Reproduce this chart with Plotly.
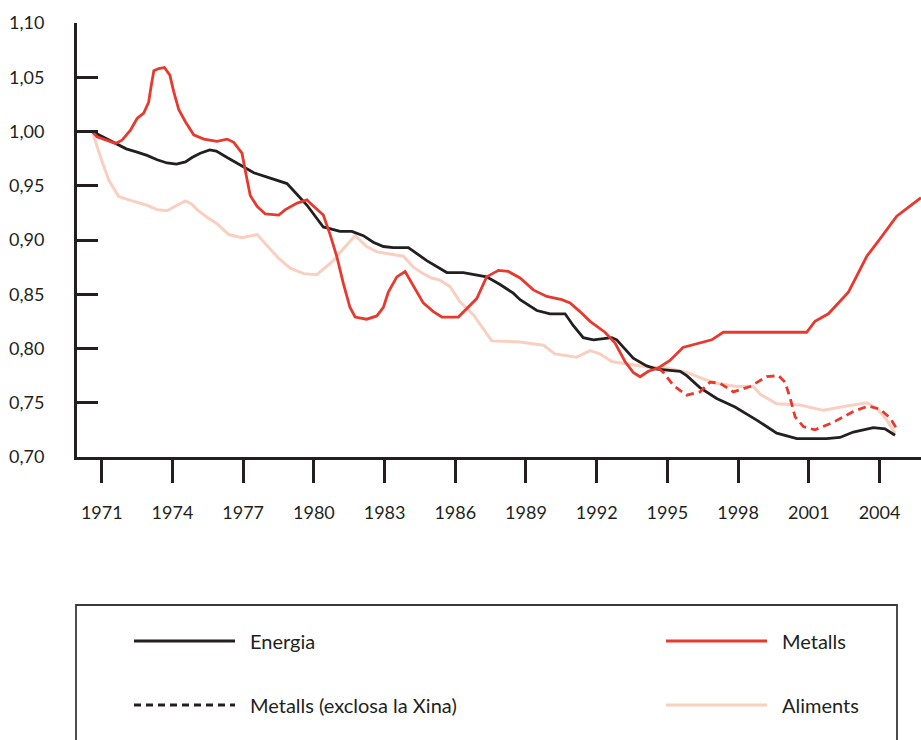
import plotly.graph_objects as go

# --- Data (index) ---
energia_x = [1970.6, 1971.58, 1972.04, 1972.5, 1972.92, 1973.35, 1973.77, 1974.17, 1974.55, 1974.83,
             1975.18, 1975.58, 1975.86, 1976.32, 1976.88, 1977.45, 1978.15, 1978.86, 1979.29, 1979.71,
             1980.4, 1981.11, 1981.61, 1982.1, 1982.52, 1982.95, 1983.37, 1984.01, 1984.79, 1985.64,
             1986.34, 1986.91, 1987.33, 1987.9, 1988.46, 1988.75, 1989.46, 1990.02, 1990.66, 1991.01,
             1991.43, 1991.86, 1992.64, 1992.85, 1993.55, 1994.12, 1994.55, 1995.54, 1995.82, 1996.38,
             1997.09, 1997.87, 1998.79, 1999.64, 2000.49, 2001.76, 2002.32, 2002.89, 2003.74, 2004.23,
             2004.66]
energia_y = [1.000, 0.989, 0.984, 0.981, 0.978, 0.974, 0.971, 0.970, 0.972, 0.976,
             0.980, 0.983, 0.982, 0.976, 0.969, 0.962, 0.957, 0.952, 0.942, 0.932,
             0.912, 0.908, 0.908, 0.904, 0.898, 0.894, 0.893, 0.893, 0.881, 0.870,
             0.870, 0.868, 0.866, 0.859, 0.851, 0.845, 0.835, 0.832, 0.832, 0.821,
             0.810, 0.808, 0.810, 0.808, 0.791, 0.784, 0.781, 0.779, 0.775, 0.764,
             0.754, 0.746, 0.734, 0.722, 0.717, 0.717, 0.718, 0.723, 0.727, 0.726,
             0.720]

metalls_x = [1970.6, 1970.8, 1971.58, 1971.86, 1972.21, 1972.5, 1972.78, 1972.99, 1973.09, 1973.21,
             1973.42, 1973.66, 1973.89, 1974.05, 1974.27, 1974.55, 1974.9, 1975.33, 1975.89, 1976.32,
             1976.6, 1976.95, 1977.09, 1977.3, 1977.59, 1977.94, 1978.51, 1978.79, 1979.29, 1979.71,
             1979.84, 1980.4, 1980.69, 1980.97, 1981.25, 1981.53, 1981.75, 1982.24, 1982.67, 1982.95,
             1983.16, 1983.52, 1983.87, 1984.22, 1984.64, 1985.07, 1985.43, 1986.13, 1986.49, 1986.91,
             1987.33, 1987.83, 1988.25, 1988.75, 1989.31, 1989.88, 1990.52, 1990.87, 1991.29, 1991.72,
             1992.35, 1992.78, 1993.2, 1993.55, 1993.84, 1994.19, 1994.61, 1995.11, 1995.66, 1996.24,
             1996.88, 1997.37, 2000.91, 2001.26, 2001.83, 2002.68, 2003.46, 2004.02, 2004.73, 2005.22,
             2005.76]
metalls_y = [1.000, 0.995, 0.989, 0.992, 1.001, 1.012, 1.017, 1.027, 1.041, 1.056,
             1.058, 1.059, 1.052, 1.037, 1.020, 1.009, 0.997, 0.993, 0.991, 0.993,
             0.990, 0.980, 0.964, 0.941, 0.931, 0.924, 0.923, 0.928, 0.934, 0.937,
             0.934, 0.923, 0.905, 0.885, 0.860, 0.838, 0.829, 0.827, 0.830, 0.838,
             0.852, 0.866, 0.871, 0.858, 0.842, 0.834, 0.829, 0.829, 0.837, 0.846,
             0.866, 0.872, 0.871, 0.865, 0.854, 0.848, 0.845, 0.842, 0.834, 0.825,
             0.815, 0.805, 0.788, 0.778, 0.774, 0.779, 0.782, 0.789, 0.801, 0.804,
             0.808, 0.815, 0.815, 0.825, 0.832, 0.852, 0.885, 0.901, 0.922, 0.930,
             0.939]

metalls_exc_x = [1994.61, 1994.83, 1995.25, 1995.82, 1996.38, 1996.81, 1997.23, 1997.8, 1998.51, 1999.21,
                 1999.71, 1999.99, 2000.2, 2000.42, 2000.77, 2001.26, 2002.04, 2002.89, 2003.53, 2004.02,
                 2004.45, 2004.73]
metalls_exc_y = [0.782, 0.778, 0.766, 0.757, 0.760, 0.769, 0.768, 0.760, 0.765, 0.774,
                 0.775, 0.769, 0.755, 0.737, 0.728, 0.725, 0.732, 0.742, 0.747, 0.744,
                 0.736, 0.726]

aliments_x = [1970.6, 1970.94, 1971.3, 1971.72, 1972.29, 1972.92, 1973.35, 1973.77, 1974.19, 1974.55,
              1974.83, 1975.04, 1975.47, 1975.89, 1976.39, 1976.95, 1977.59, 1978.01, 1978.51, 1979.0,
              1979.57, 1980.12, 1980.83, 1981.25, 1981.75, 1982.24, 1982.67, 1983.23, 1983.8, 1984.22,
              1984.64, 1985.0, 1985.35, 1985.78, 1986.2, 1986.77, 1987.12, 1987.55, 1988.75, 1989.74,
              1990.23, 1991.15, 1991.72, 1992.14, 1992.64, 1993.27, 1994.12, 1994.97, 1995.82, 1996.52,
              1997.09, 1997.94, 1998.65, 1998.93, 1999.64, 2000.63, 2001.62, 2002.61, 2003.46, 2003.88,
              2004.31, 2004.66]
aliments_y = [1.000, 0.977, 0.955, 0.940, 0.936, 0.932, 0.928, 0.927, 0.932, 0.936,
              0.933, 0.928, 0.921, 0.915, 0.905, 0.902, 0.905, 0.895, 0.883, 0.874,
              0.869, 0.868, 0.881, 0.892, 0.904, 0.894, 0.889, 0.887, 0.885, 0.875,
              0.869, 0.865, 0.863, 0.857, 0.843, 0.831, 0.820, 0.807, 0.806, 0.803,
              0.795, 0.792, 0.798, 0.795, 0.788, 0.786, 0.783, 0.782, 0.778, 0.772,
              0.768, 0.765, 0.765, 0.758, 0.749, 0.748, 0.743, 0.747, 0.750, 0.745,
              0.734, 0.722]

year_ticks = list(range(1971, 2005, 3))
y_ticks = [0.70, 0.75, 0.80, 0.85, 0.90, 0.95, 1.00, 1.05, 1.10]

# colours
INK = "#231f20"
RED = "#e8392f"
PEACH = "#f9cfc0"
FONT = "Lato, 'Open Sans', sans-serif"

fig = go.Figure()
fig.add_trace(go.Scatter(x=aliments_x, y=aliments_y, mode="lines", name="Aliments",
                         line=dict(color=PEACH, width=3)))
fig.add_trace(go.Scatter(x=energia_x, y=energia_y, mode="lines", name="Energia",
                         line=dict(color=INK, width=2.8)))
fig.add_trace(go.Scatter(x=metalls_exc_x, y=metalls_exc_y, mode="lines",
                         name="Metalls (exclosa la Xina)",
                         line=dict(color=RED, width=2.8, dash="8px,5px")))
fig.add_trace(go.Scatter(x=metalls_x, y=metalls_y, mode="lines", name="Metalls",
                         line=dict(color=RED, width=2.8)))

# full-window figure; the body margin is removed in the page script below
W, H = 921, 740
# plot area in window pixels: x 77..921, y 23..457
L, R, T, B = 77, 921, 23, 457


def px_x(p):
    return (p - L) / (R - L)


def px_y(p):
    return (B - p) / (B - T)


fig.update_xaxes(
    range=[1969.95, 2005.76], showgrid=False, zeroline=False,
    showline=True, linecolor=INK, linewidth=3,
    ticks="outside", ticklen=23, tickwidth=3, tickcolor=INK,
    tickvals=year_ticks, ticktext=[str(y) for y in year_ticks],
    ticklabelstandoff=14,
    tickfont=dict(family=FONT, size=18, color=INK),
)
fig.update_yaxes(
    range=[0.70, 1.10], showgrid=False, zeroline=False,
    showline=True, linecolor=INK, linewidth=3,
    ticks="inside", ticklen=21, tickwidth=3, tickcolor=INK,
    tickvals=y_ticks, tickformat=".2f",
    ticklabelstandoff=26,
    tickfont=dict(family=FONT, size=18, color=INK),
)

# hand-drawn legend box below the chart (2 x 2 entries)
shapes = [dict(type="rect", xref="paper", yref="paper",
               x0=px_x(76), x1=px_x(897), y0=px_y(605), y1=px_y(760),
               line=dict(color="#3a3a3a", width=1.8), fillcolor="rgba(0,0,0,0)")]
annotations = []
legend_items = [
    ("Energia", INK, "solid", 134, 641),
    ("Metalls", RED, "solid", 666, 641),
    ("Metalls (exclosa la Xina)", INK, "7px,5px", 134, 705),
    ("Aliments", PEACH, "solid", 666, 705),
]
for label, color, dash, x0, yrow in legend_items:
    shapes.append(dict(type="line", xref="paper", yref="paper",
                       x0=px_x(x0), x1=px_x(x0 + 101), y0=px_y(yrow), y1=px_y(yrow),
                       line=dict(color=color, width=2.8, dash=dash)))
    annotations.append(dict(xref="paper", yref="paper", x=px_x(x0 + 114), y=px_y(yrow),
                            text=label, showarrow=False, xanchor="left", yanchor="middle",
                            font=dict(family=FONT, size=20, color=INK)))

fig.update_layout(
    width=W, height=H,
    margin=dict(l=L, r=W - R, t=T, b=H - B),
    paper_bgcolor="white", plot_bgcolor="white",
    separators=",.",
    showlegend=False,
    shapes=shapes,
    annotations=annotations,
)

# drop the default 8px body margin so the figure fills the window
fig.write_html("out.html",
               config={"displayModeBar": False},
               post_script="document.body.style.margin='0';"
                           "document.documentElement.style.overflow='hidden';")
